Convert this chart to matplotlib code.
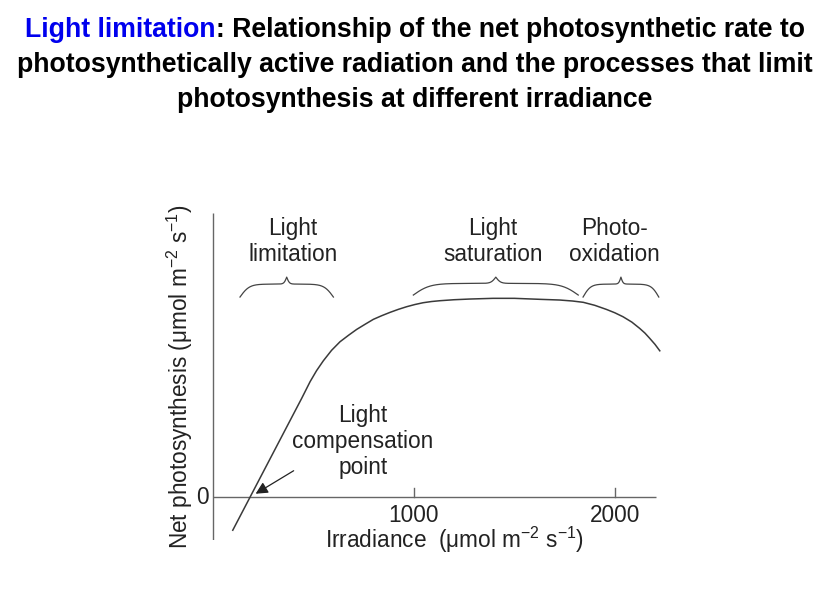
import numpy as np
import matplotlib
matplotlib.use("Agg")
import matplotlib.pyplot as plt

plt.rcParams['font.family'] = ['Liberation Sans', 'DejaVu Sans']
plt.rcParams['mathtext.default'] = 'regular'

# light-response curve (irradiance, net photosynthesis in arbitrary units)
irradiance = [98, 184, 300, 400, 441, 483, 515, 549, 590, 632, 675, 715, 758, 798, 840,
              881, 922, 964, 1005, 1046, 1088, 1129, 1200, 1279, 1394, 1500, 1627, 1726,
              1790, 1843, 1900, 1958, 2000, 2041, 2085, 2124, 2150, 2174, 2200, 2224]
net_ps = [-3.32, 0.0, 4.48, 8.34, 9.92, 11.6, 12.7, 13.7, 14.75, 15.61, 16.27, 16.85, 17.38,
          17.86, 18.23, 18.56, 18.86, 19.13, 19.35, 19.53, 19.65, 19.73, 19.83, 19.90, 19.97,
          19.97, 19.87, 19.80, 19.70, 19.57, 19.27, 18.86, 18.52, 18.12, 17.58, 16.95, 16.48,
          15.95, 15.35, 14.70]

x_ticks = [1000, 2000]
brace_spans = [(134, 599), (997, 1818), (1842, 2219)]
brace_base = [20.1, 20.3, 20.1]
region_labels = ["Light\nlimitation", "Light\nsaturation", "Photo-\noxidation"]
region_x = [398, 1394, 2000]

FS = 16.3
TXT = '#222222'

fig = plt.figure(figsize=(8.30, 6.03), dpi=100)
ax = fig.add_axes([0.2422, 0.1045, 0.5566, 0.5416])
ax.set_xlim(-60, 2240)
ax.set_ylim(-4.3, 28.5)
ax.axis('off')

AX_COL = "#666666"
# axes lines drawn by hand
ax.plot([0, 0], [-4.3, 28.5], color=AX_COL, lw=1.0, solid_capstyle='butt')
ax.plot([0, 2204], [0, 0], color=AX_COL, lw=1.0, solid_capstyle='butt')
for t in x_ticks:
    ax.plot([t, t], [0, 0.9], color=AX_COL, lw=1.0)
    ax.text(t, -0.7, f"{t}", ha='center', va='top', fontsize=FS, color=TXT)
ax.text(-22, 0, "0", ha='right', va='center', fontsize=FS, color=TXT)

ax.plot(irradiance, net_ps, color='#3a3a3a', lw=1.1, clip_on=False)


def brace(x0, x1, y0, h=2.0, n=200):
    u = np.linspace(0, 0.5, n)
    s = 0.65 / (1 + np.exp(-20 * u)) + 0.35 / (1 + np.exp(-70 * (u - 0.5)))
    s = (s - s[0]) / (s[-1] - s[0])
    xs = np.concatenate([x0 + u * (x1 - x0), x0 + (1 - u[::-1]) * (x1 - x0)])
    ys = np.concatenate([y0 + h * s, y0 + h * s[::-1]])
    return xs, ys


for (a, b), y0 in zip(brace_spans, brace_base):
    bx, by = brace(a, b, y0, h=22.1 - y0)
    ax.plot(bx, by, color='#444444', lw=0.9, clip_on=False)

for lab, xx in zip(region_labels, region_x):
    ax.text(xx, 25.7, lab, ha='center', va='center', fontsize=FS, color=TXT,
            linespacing=1.15)

ax.text(746, 5.6, "Light\ncompensation\npoint", ha='center', va='center', fontsize=FS,
        color=TXT, linespacing=1.15)
ax.annotate('', xy=(200, 0.2), xytext=(413, 2.8),
            arrowprops=dict(arrowstyle='-|>', color=TXT, lw=0.9, mutation_scale=18))

fig.text(0.547, 0.104, r"Irradiance  ($\mu$mol m$^{-2}$ s$^{-1}$)", ha='center', va='center',
         fontsize=FS, color=TXT)
fig.text(0.217, 0.376, r"Net photosynthesis ($\mu$mol m$^{-2}$ s$^{-1}$)", ha='center',
         va='center', rotation=90, fontsize=FS, color=TXT)

# title, first line in two colours
tfont = dict(fontsize=19.2, fontweight='bold', family=['Liberation Sans', 'DejaVu Sans'])
y1 = 1 - 30 / 603
p1 = fig.text(0, y1, "Light limitation", color='#0000EE', va='center', ha='left', **tfont)
p2 = fig.text(0, y1, ": Relationship of the net photosynthetic rate to", color='black',
              va='center', ha='left', **tfont)
fig.canvas.draw()
r = fig.canvas.get_renderer()
w1 = p1.get_window_extent(r).width
w2 = p2.get_window_extent(r).width
start = (830 - (w1 + w2)) / 2
p1.set_x(start / 830)
p2.set_x((start + w1) / 830)
fig.text(0.5, 1 - 65 / 603, "photosynthetically active radiation and the processes that limit",
         ha='center', va='center', **tfont)
fig.text(0.5, 1 - 100 / 603, "photosynthesis at different irradiance",
         ha='center', va='center', **tfont)

fig.savefig("out.png", dpi=100)
